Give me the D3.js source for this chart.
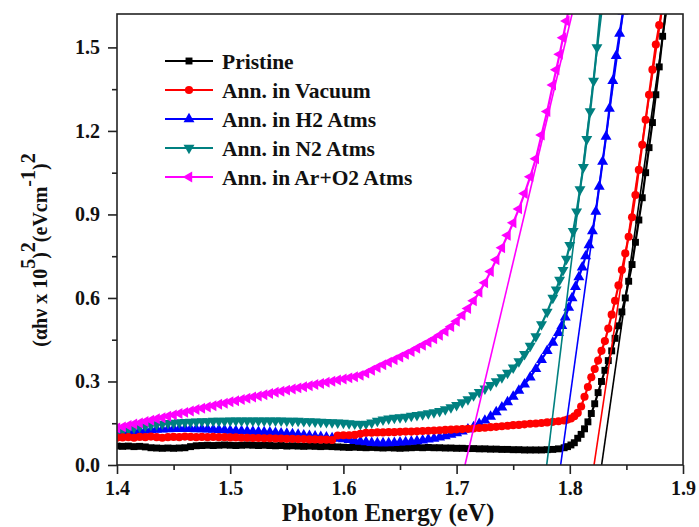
<!DOCTYPE html>
<html><head><meta charset="utf-8">
<script src="https://cdn.jsdelivr.net/npm/d3@7"></script>
<style>
body{margin:0;background:#fff}
text{font-family:"Liberation Serif","Times New Roman",serif;font-weight:bold;fill:#111}
</style>
</head><body>
<svg id="chart" width="699" height="527"></svg>
<script>
// ---------- data ----------
const seriesNames = ["Pristine","Ann. in Vacuum","Ann. in H2 Atms","Ann. in N2 Atms","Ann. in Ar+O2 Atms"];
const seriesColors = ["#000000","#ff0000","#0000ff","#008080","#ff00ff"];

// common photon energy grid of the flat part (eV)
const energyGrid = [
 1.400,1.405,1.410,1.415,1.420,1.425,1.430,1.435,1.440,1.445,
 1.450,1.455,1.460,1.465,1.470,1.475,1.480,1.485,1.490,1.495,
 1.500,1.505,1.510,1.515,1.520,1.525,1.530,1.535,1.540,1.545,
 1.550,1.555,1.560,1.565,1.570,1.575,1.580,1.585,1.590,1.595,
 1.600,1.605,1.610,1.615,1.620,1.625,1.630,1.635,1.640,1.645,
 1.650,1.655,1.660,1.665,1.670,1.675,1.680,1.685,1.690,1.695,
 1.700,1.705,1.710,1.715,1.720,1.725,1.730,1.735,1.740];

const pristineY = [
 0.068,0.067,0.068,0.066,0.067,0.065,0.062,0.061,0.060,0.061,
 0.060,0.061,0.062,0.066,0.069,0.070,0.071,0.070,0.071,0.072,
 0.071,0.070,0.071,0.072,0.071,0.070,0.071,0.070,0.069,0.070,
 0.068,0.069,0.068,0.067,0.068,0.067,0.066,0.067,0.066,0.065,
 0.064,0.063,0.064,0.063,0.062,0.063,0.062,0.061,0.062,0.061,
 0.060,0.061,0.062,0.063,0.062,0.063,0.062,0.062,0.061,0.061,
 0.060,0.060,0.059,0.059,0.058,0.058,0.057,0.057,0.056];
const pristineTailE = [1.745,1.750,1.755,1.760,1.765,1.770,1.775,1.780,1.785,1.790,
 1.795,1.798,1.801,1.804,1.807,1.810,1.813,1.816,1.819,1.822,
 1.825,1.828,1.831,1.834,1.837,1.840,1.843,1.846,1.849,1.852,
 1.855,1.858,1.861,1.864,1.867,1.870,1.873,1.876,1.879,1.882,1.885];
const pristineTailY = [0.056,0.055,0.055,0.054,0.054,0.054,0.054,0.055,0.056,0.058,
 0.062,0.066,0.072,0.080,0.096,0.110,0.130,0.155,0.185,0.220,
 0.260,0.300,0.340,0.375,0.410,0.455,0.500,0.550,0.600,0.660,
 0.720,0.800,0.880,0.960,1.050,1.140,1.230,1.330,1.430,1.540,1.640];

const vacuumY = [
 0.098,0.099,0.100,0.098,0.101,0.100,0.102,0.100,0.098,0.100,
 0.101,0.100,0.102,0.101,0.100,0.101,0.100,0.101,0.100,0.100,
 0.099,0.099,0.098,0.098,0.097,0.097,0.096,0.096,0.095,0.095,
 0.094,0.094,0.093,0.093,0.092,0.092,0.091,0.091,0.090,0.106,
 0.107,0.107,0.108,0.112,0.116,0.116,0.117,0.117,0.118,0.118,
 0.119,0.120,0.120,0.121,0.122,0.123,0.124,0.125,0.126,0.127,
 0.128,0.129,0.130,0.131,0.133,0.134,0.136,0.137,0.139];
const vacuumTailE = [1.745,1.750,1.755,1.760,1.765,1.770,1.775,1.780,1.785,1.790,
 1.795,1.798,1.801,1.804,1.807,1.810,1.813,1.816,1.819,1.822,
 1.825,1.828,1.831,1.834,1.837,1.840,1.843,1.846,1.849,1.852,
 1.855,1.858,1.861,1.864,1.867,1.870,1.873,1.876,1.879,1.882];
const vacuumTailY = [0.141,0.143,0.144,0.146,0.148,0.149,0.151,0.153,0.155,0.157,
 0.160,0.163,0.167,0.175,0.187,0.210,0.245,0.280,0.315,0.345,
 0.375,0.410,0.445,0.490,0.540,0.590,0.645,0.700,0.760,0.820,
 0.890,0.970,1.060,1.150,1.240,1.330,1.420,1.510,1.580,1.650];

const h2Y = [
 0.112,0.115,0.118,0.120,0.122,0.124,0.126,0.127,0.128,0.129,
 0.130,0.130,0.130,0.130,0.129,0.129,0.128,0.127,0.126,0.125,
 0.124,0.123,0.122,0.121,0.120,0.119,0.118,0.117,0.116,0.114,
 0.113,0.111,0.109,0.107,0.105,0.103,0.101,0.099,0.097,0.095,
 0.093,0.090,0.087,0.084,0.082,0.080,0.079,0.079,0.079,0.080,
 0.081,0.082,0.084,0.086,0.089,0.092,0.095,0.099,0.104,0.109,
 0.115,0.121,0.128,0.136,0.148,0.160,0.174,0.190,0.207];
const h2TailE = [1.745,1.750,1.755,1.760,1.765,1.770,1.775,1.780,1.785,1.790,
 1.793,1.796,1.799,1.802,1.805,1.808,1.811,1.814,1.817,1.820,
 1.823,1.826,1.829,1.832,1.835,1.838,1.841,1.844,1.847];
const h2TailY = [0.226,0.246,0.267,0.290,0.315,0.345,0.378,0.410,0.440,0.475,
 0.500,0.530,0.565,0.600,0.640,0.675,0.710,0.750,0.790,0.840,
 0.910,1.000,1.090,1.180,1.280,1.380,1.470,1.550,1.630];

const n2Y = [
 0.118,0.124,0.129,0.134,0.138,0.141,0.144,0.146,0.148,0.150,
 0.151,0.153,0.154,0.155,0.156,0.157,0.157,0.158,0.158,0.158,
 0.159,0.159,0.159,0.159,0.159,0.159,0.159,0.159,0.159,0.159,
 0.158,0.158,0.158,0.157,0.157,0.156,0.155,0.154,0.153,0.152,
 0.151,0.149,0.148,0.147,0.148,0.152,0.158,0.163,0.166,0.169,
 0.171,0.173,0.176,0.179,0.182,0.185,0.189,0.193,0.200,0.207,
 0.215,0.225,0.236,0.250,0.262,0.274,0.287,0.300,0.315];
const n2TailE = [1.745,1.750,1.755,1.760,1.765,1.770,1.775,1.780,1.785,
 1.788,1.791,1.794,1.797,1.800,1.803,1.806,1.809,1.812,1.815,1.818,1.821,1.824,1.827];
const n2TailY = [0.331,0.350,0.372,0.398,0.428,0.462,0.505,0.550,0.600,
 0.630,0.665,0.700,0.740,0.790,0.840,0.910,0.990,1.070,1.170,1.270,1.380,1.500,1.630];

const arO2Y = [
 0.133,0.137,0.142,0.147,0.151,0.156,0.161,0.166,0.170,0.175,
 0.180,0.185,0.189,0.194,0.199,0.204,0.208,0.213,0.218,0.222,
 0.227,0.231,0.235,0.240,0.244,0.248,0.252,0.257,0.261,0.265,
 0.269,0.273,0.277,0.281,0.285,0.289,0.293,0.297,0.301,0.305,
 0.309,0.313,0.317,0.322,0.330,0.340,0.350,0.360,0.369,0.378,
 0.388,0.398,0.408,0.419,0.430,0.441,0.453,0.466,0.480,0.497,
 0.516,0.538,0.562,0.590,0.620,0.655,0.695,0.737,0.780];
const arO2TailE = [1.745,1.750,1.755,1.760,1.765,1.770,1.775,1.780,1.785,1.788,1.791,1.794,1.797,1.800];
const arO2TailY = [0.825,0.870,0.920,0.975,1.035,1.100,1.185,1.270,1.365,1.420,1.475,1.535,1.595,1.655];

// linear band-gap fits: x-intercept and energy where the fit reaches the top value
const fitStartE = [1.8281,1.8214,1.7919,1.7796,1.7074];
const fitEndE   = [1.885,1.881,1.847,1.828,1.802];
const fitTopY   = 1.62;

const xTicks = [1.4,1.5,1.6,1.7,1.8,1.9];
const xMinor = [1.45,1.55,1.65,1.75,1.85];
const yTicks = [0.0,0.3,0.6,0.9,1.2,1.5];
const yMinor = [0.15,0.45,0.75,1.05,1.35];

// ---------- build ----------
const svg = d3.select("#chart");
const L = 117, R = 683, T = 14, B = 465;
const x = d3.scaleLinear().domain([1.4,1.9]).range([L,R]);
const y = d3.scaleLinear().domain([0,1.62]).range([B,T]);

const series = [
  {E: energyGrid.concat(pristineTailE), V: pristineY.concat(pristineTailY), sym: d3.symbolSquare, rot: 0, size: 48},
  {E: energyGrid.concat(vacuumTailE),  V: vacuumY.concat(vacuumTailY),  sym: d3.symbolCircle, rot: 0, size: 52},
  {E: energyGrid.concat(h2TailE),      V: h2Y.concat(h2TailY),          sym: d3.symbolTriangle, rot: 0, size: 52},
  {E: energyGrid.concat(n2TailE),      V: n2Y.concat(n2TailY),          sym: d3.symbolTriangle, rot: 180, size: 52},
  {E: energyGrid.concat(arO2TailE),    V: arO2Y.concat(arO2TailY),      sym: d3.symbolTriangle, rot: -90, size: 52}
];
series.forEach((s,i)=>{ s.name = seriesNames[i]; s.color = seriesColors[i];
  s.pts = s.E.map((e,j)=>[e, s.V[j]]); });

svg.append("defs").append("clipPath").attr("id","plotclip")
  .append("rect").attr("x",L).attr("y",T).attr("width",R-L).attr("height",B-T);

const plot = svg.append("g").attr("clip-path","url(#plotclip)");
const line = d3.line().x(d=>x(d[0])).y(d=>y(d[1]));

const drawOrder = [0,2,3,1,4];
drawOrder.forEach(i=>{
  const s = series[i];
  const g = plot.append("g");
  g.append("path").datum(s.pts).attr("d",line).attr("fill","none")
    .attr("stroke",s.color).attr("stroke-width",2.2);
  g.selectAll("path.m").data(s.pts).enter().append("path").attr("class","m")
    .attr("d", d3.symbol().type(s.sym).size(s.size)())
    .attr("transform", d=>`translate(${x(d[0])},${y(d[1])}) rotate(${s.rot})`)
    .attr("fill", s.color);
});

// fit lines
series.forEach((s,i)=>{
  plot.append("line")
    .attr("x1", x(fitStartE[i])).attr("y1", y(0))
    .attr("x2", x(fitEndE[i])).attr("y2", y(fitTopY))
    .attr("stroke", s.color).attr("stroke-width", 1.6);
});

// frame
svg.append("rect").attr("x",L).attr("y",T).attr("width",R-L).attr("height",B-T)
  .attr("fill","none").attr("stroke","#222").attr("stroke-width",1.6);

// axes
const fmt = d3.format(".1f");
const xAxis = svg.append("g").attr("transform",`translate(0,${B})`)
  .call(d3.axisBottom(x).tickValues(xTicks).tickFormat(fmt).tickSize(9).tickPadding(7));
const xAxisMinor = svg.append("g").attr("transform",`translate(0,${B})`)
  .call(d3.axisBottom(x).tickValues(xMinor).tickFormat("").tickSize(5));
const yAxis = svg.append("g").attr("transform",`translate(${L},0)`)
  .call(d3.axisLeft(y).tickValues(yTicks).tickFormat(fmt).tickSize(9).tickPadding(8));
const yAxisMinor = svg.append("g").attr("transform",`translate(${L},0)`)
  .call(d3.axisLeft(y).tickValues(yMinor).tickFormat("").tickSize(5));
[xAxis,xAxisMinor,yAxis,yAxisMinor].forEach(a=>{
  a.select(".domain").remove();
  a.selectAll("line").attr("stroke","#222").attr("stroke-width",1.6);
  a.selectAll("text").attr("fill","#111")
    .style("font-family",'"Liberation Serif","Times New Roman",serif')
    .style("font-weight","bold").style("font-size","20px");
});

// axis titles
svg.append("text").attr("x",388).attr("y",521).attr("text-anchor","middle")
  .style("font-size","25px").text("Photon Energy (eV)");

const yt = svg.append("text").attr("transform","translate(47,250) rotate(-90)")
  .attr("text-anchor","middle").style("font-size","20px");
yt.append("tspan").text("(αhν x 10");
yt.append("tspan").attr("dy",-12).text("5");
yt.append("tspan").attr("dy",12).text(")");
yt.append("tspan").attr("dy",-12).text("2");
yt.append("tspan").attr("dy",12).text("(eVcm");
yt.append("tspan").attr("dy",-12).text("-1");
yt.append("tspan").attr("dy",12).text(")");
yt.append("tspan").attr("dy",-12).text("2");

// legend
const lg = svg.append("g");
series.forEach((s,i)=>{
  const ly = 61 + 29*i;
  lg.append("line").attr("x1",165).attr("x2",213).attr("y1",ly).attr("y2",ly)
    .attr("stroke",s.color).attr("stroke-width",2);
  lg.append("path").attr("d", d3.symbol().type(s.sym).size(s.size)())
    .attr("transform",`translate(189,${ly}) rotate(${s.rot})`).attr("fill",s.color);
  lg.append("text").attr("x",222).attr("y",ly).attr("dy","0.35em")
    .style("font-size","21.5px").text(s.name);
});
</script>
</body></html>
